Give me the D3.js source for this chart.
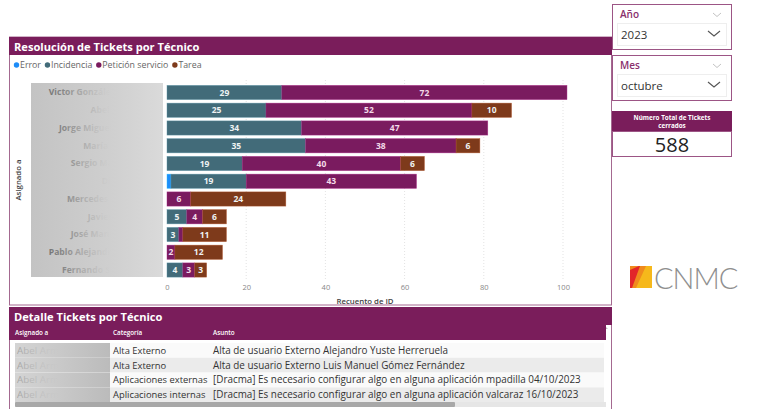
<!DOCTYPE html>
<html>
<head>
<meta charset="utf-8">
<script src="https://cdn.jsdelivr.net/npm/d3@7"></script>
<style>
  html, body { margin: 0; padding: 0; background: #fff; }
  svg { display: block; font-family: "Open Sans", "Noto Sans", sans-serif; }
</style>
</head>
<body>
<svg id="c" width="771" height="409"></svg>
<script>
// ---------------- data ----------------
const tecnicos = ["Victor González Rodríguez", "Abel Armas Ruiz", "Jorge Miguel Sanz Pérez", "María Gómez Ruiz",
  "Sergio Martín Blanco", "Diego Ruiz Gil", "Mercedes Díaz Ramos", "Javier López Díaz",
  "José Manuel Ortiz Gil", "Pablo Alejandro Vega Ruiz", "Fernando Sáez Moreno"];
const tipos = ["Error", "Incidencia", "Petición servicio", "Tarea"];
const error      = [0, 0, 0, 0, 0, 1, 0, 0, 0, 0, 0];
const incidencia = [29, 25, 34, 35, 19, 19, 0, 5, 3, 0, 4];
const peticion   = [72, 52, 47, 38, 40, 43, 6, 4, 1, 2, 3];
const tarea      = [0, 10, 0, 6, 6, 0, 24, 6, 11, 12, 3];
const xTicks = [0, 20, 40, 60, 80, 100];

const anio = "2023";
const mes = "octubre";
const totalTickets = 588;

const tablaAsignado  = ["Abel Armas Ruiz", "Abel Armas Ruiz", "Abel Armas Ruiz", "Abel Armas Ruiz"];
const tablaCategoria = ["Alta Externo", "Alta Externo", "Aplicaciones externas", "Aplicaciones internas"];
const tablaAsunto = [
  "Alta de usuario Externo Alejandro Yuste Herreruela",
  "Alta de usuario Externo Luis Manuel Gómez Fernández",
  "[Dracma] Es necesario configurar algo en alguna aplicación mpadilla 04/10/2023",
  "[Dracma] Es necesario configurar algo en alguna aplicación valcaraz 16/10/2023"
];
const tablaCols = ["Asignado a", "Categoría", "Asunto"];

// ---------------- setup ----------------
const PURPLE = "#7a1d5b";
const colors = { "Error": "#1d8cf8", "Incidencia": "#426b79", "Petición servicio": "#7a1b5f", "Tarea": "#7e3a1b" };
const svg = d3.select("#c");
const defs = svg.append("defs");

function lin(id, x1, x2, stops, units) {
  const g = defs.append("linearGradient").attr("id", id)
    .attr("gradientUnits", units || "objectBoundingBox")
    .attr("x1", x1).attr("x2", x2).attr("y1", 0).attr("y2", 0);
  stops.forEach(s => g.append("stop").attr("offset", s[0]).attr("stop-color", s[1]).attr("stop-opacity", s[2] == null ? 1 : s[2]));
}
lin("boxGrad", 0, 1, [[0, "#c3c3c3"], [0.6, "#cfcfcf"], [1, "#dadada"]]);
// name labels live in a group translated by 160 -> gradient coords in that space
lin("nameGrad", -130, -48, [[0, "#5c5c5c", 1], [0.45, "#858585", 0.9], [0.75, "#a8a8a8", 0.55], [1, "#c4c4c4", 0]], "userSpaceOnUse");
lin("tboxGrad", 0, 1, [[0, "#d4d4d4"], [0.5, "#c8c8c8"], [1, "#bbbbbb"]]);
lin("tnameGrad", 15, 62, [[0, "#a0a0a0", 1], [1, "#c0c0c0", 0]], "userSpaceOnUse");

// ---------------- main chart panel ----------------
svg.append("rect").attr("x", 9.5).attr("y", 37).attr("width", 602).attr("height", 268)
  .attr("fill", "#fff").attr("stroke", "#a46990").attr("stroke-width", 1);
svg.append("rect").attr("x", 9).attr("y", 37).attr("width", 603).attr("height", 18).attr("fill", PURPLE);
svg.append("text").attr("x", 14).attr("y", 50.5).attr("fill", "#fff")
  .attr("font-size", 11.1).attr("font-weight", 700).text("Resolución de Tickets por Técnico");

// legend
let lx = 14;
const lg = svg.append("g");
tipos.forEach(t => {
  lg.append("circle").attr("cx", lx + 2.5).attr("cy", 65).attr("r", 2.7).attr("fill", colors[t]);
  const tx = lg.append("text").attr("x", lx + 6).attr("y", 68).attr("font-size", 8.8).attr("fill", "#666").text(t);
  lx += 6 + tx.node().getComputedTextLength() + 4;
});

// scales
const x = d3.scaleLinear().domain([0, 100]).range([167, 563]);
const y = d3.scaleBand().domain(tecnicos).range([84.5, 278]).paddingInner(0.2).paddingOuter(0.05);

// gridlines
svg.append("g").selectAll("line").data(xTicks.slice(1)).join("line")
  .attr("x1", d => x(d)).attr("x2", d => x(d)).attr("y1", 80).attr("y2", 281)
  .attr("stroke", "#e3e3e3").attr("stroke-dasharray", "1,2");

// x axis
const xAxis = d3.axisBottom(x).tickValues(xTicks).tickSize(0).tickPadding(0);
const gx = svg.append("g").attr("transform", "translate(0,285)").call(xAxis);
gx.select(".domain").remove();
gx.selectAll("text").attr("font-size", 7.5).attr("fill", "#888").attr("dy", "0.71em")
  .attr("font-family", "'Open Sans', sans-serif");
svg.append("text").attr("x", 365).attr("y", 304).attr("text-anchor", "middle")
  .attr("font-size", 7.8).attr("font-weight", 600).attr("fill", "#444").text("Recuento de ID");

// y title
svg.append("text").attr("transform", "translate(21,180) rotate(-90)").attr("text-anchor", "middle")
  .attr("font-size", 7.8).attr("font-weight", 600).attr("fill", "#444").text("Asignado a");

// names (obscured)
svg.append("rect").attr("x", 31).attr("y", 83).attr("width", 132).attr("height", 194).attr("fill", "url(#boxGrad)");
const ya = d3.axisLeft(y).tickSize(0).tickPadding(0);
const gy = svg.append("g").attr("transform", "translate(160,0)").call(ya);
gy.select(".domain").remove();
gy.selectAll("text").attr("font-size", 8.6).attr("font-weight", 700).attr("fill", "url(#nameGrad)")
  .attr("font-family", "'Open Sans', sans-serif");

// stacked bars
const rows = tecnicos.map((n, i) => ({ name: n, "Error": error[i], "Incidencia": incidencia[i], "Petición servicio": peticion[i], "Tarea": tarea[i] }));
const series = d3.stack().keys(tipos)(rows);
const bars = svg.append("g");
series.forEach(s => {
  const g = bars.append("g");
  g.selectAll("rect").data(s.filter(d => d[1] > d[0])).join("rect")
    .attr("x", d => x(d[0])).attr("width", d => x(d[1]) - x(d[0]))
    .attr("y", d => y(d.data.name)).attr("height", y.bandwidth())
    .attr("fill", colors[s.key]).attr("stroke", d3.color(colors[s.key]).brighter(0.9)).attr("stroke-width", 0.6)
    .attr("stroke-opacity", 0.7);
  g.selectAll("text").data(s.filter(d => x(d[1]) - x(d[0]) >= 6)).join("text")
    .attr("x", d => (x(d[0]) + x(d[1])) / 2).attr("y", d => y(d.data.name) + y.bandwidth() / 2 + 3.2)
    .attr("text-anchor", "middle").attr("font-size", 8.5).attr("font-weight", 700)
    .attr("fill", s.key === "Petición servicio" ? "#f3dbe9" : "#eef2f3")
    .text(d => d[1] - d[0]);
});

// ---------------- slicers ----------------
function slicer(y0, label, value) {
  const g = svg.append("g");
  g.append("rect").attr("x", 612.5).attr("y", y0 + 0.5).attr("width", 119).attr("height", 45)
    .attr("fill", "#fff").attr("stroke", "#9c5585");
  g.append("text").attr("x", 620).attr("y", y0 + 13.5).attr("font-size", 10).attr("font-weight", 600).attr("fill", "#8a2f6c").text(label);
  g.append("path").attr("d", `M${713},${y0 + 9} l4,3.5 l4,-3.5`).attr("fill", "none").attr("stroke", "#bbb").attr("stroke-width", 0.9);
  g.append("rect").attr("x", 617.5).attr("y", y0 + 19.5).attr("width", 109).attr("height", 22)
    .attr("fill", "#fff").attr("stroke", "#eeeeee");
  g.append("text").attr("x", 621).attr("y", y0 + 35).attr("font-size", 11.5).attr("fill", "#333").text(value);
  g.append("path").attr("d", `M${708},${y0 + 27} l6,5 l6,-5`).attr("fill", "none").attr("stroke", "#555").attr("stroke-width", 1.1);
}
slicer(4, "Año", anio);
slicer(55, "Mes", mes);

// card
svg.append("rect").attr("x", 612).attr("y", 111).attr("width", 120).attr("height", 20).attr("fill", PURPLE);
svg.append("text").attr("x", 672).attr("y", 119.5).attr("text-anchor", "middle").attr("font-size", 6.3)
  .attr("font-weight", 700).attr("fill", "#fff").text("Número Total de Tickets");
svg.append("text").attr("x", 672).attr("y", 127.5).attr("text-anchor", "middle").attr("font-size", 6.3)
  .attr("font-weight", 700).attr("fill", "#fff").text("cerrados");
svg.append("rect").attr("x", 612.5).attr("y", 131.5).attr("width", 119).attr("height", 25)
  .attr("fill", "#fff").attr("stroke", "#9c5585");
svg.append("text").attr("x", 672).attr("y", 152).attr("text-anchor", "middle").attr("font-size", 20)
  .attr("font-weight", 500).attr("fill", "#222").text(totalTickets);

// logo
const logo = svg.append("g").attr("transform", "translate(630,266)");
logo.append("path").attr("d", "M0,0 H22 V22 H0 Z").attr("fill", "#f6b81b");
logo.append("path").attr("d", "M0,0 H16 L6,22 H0 Z").attr("fill", "#f08a1d");
logo.append("path").attr("d", "M0,4 L9,0 H10 L2,22 H0 Z").attr("fill", "#e2262a");
svg.append("text").attr("x", 654).attr("y", 289).attr("font-size", 29).attr("font-weight", 300)
  .attr("font-family", "Lato, 'Open Sans', sans-serif").attr("letter-spacing", -1).attr("fill", "#8f8f8f").text("CNMC");

// ---------------- table ----------------
svg.append("line").attr("x1", 9.5).attr("x2", 9.5).attr("y1", 307).attr("y2", 409).attr("stroke", "#a46990");
svg.append("line").attr("x1", 611.5).attr("x2", 611.5).attr("y1", 307).attr("y2", 409).attr("stroke", "#a46990");
svg.append("rect").attr("x", 9).attr("y", 307).attr("width", 603).attr("height", 18).attr("fill", PURPLE);
svg.append("rect").attr("x", 9).attr("y", 325).attr("width", 597).attr("height", 15).attr("fill", PURPLE);
svg.append("text").attr("x", 14).attr("y", 320.5).attr("fill", "#fff")
  .attr("font-size", 11.1).attr("font-weight", 700).text("Detalle Tickets por Técnico");
const colX = [15, 113, 213];
tablaCols.forEach((c, i) => svg.append("text").attr("x", colX[i]).attr("y", 335).attr("font-size", 6.3)
  .attr("font-weight", 600).attr("fill", "#fff").text(c));
const trows = svg.append("g");
tablaCategoria.forEach((c, i) => {
  const ty = 343 + i * 14.8;
  trows.append("rect").attr("x", 15).attr("y", ty).attr("width", 589).attr("height", 14.8)
    .attr("fill", i % 2 ? "#ebebeb" : "#fafafa");
  trows.append("rect").attr("x", 15).attr("y", ty).attr("width", 95).attr("height", 14.8).attr("fill", "url(#tboxGrad)");
  trows.append("text").attr("x", 17).attr("y", ty + 10.8).attr("font-size", 9.8).attr("fill", "url(#tnameGrad)").text(tablaAsignado[i]);
  trows.append("text").attr("x", colX[1]).attr("y", ty + 10.8).attr("font-size", 9.4).attr("fill", "#333").text(c);
  trows.append("text").attr("x", colX[2]).attr("y", ty + 10.8).attr("font-size", 9.9).attr("fill", "#333").text(tablaAsunto[i]);
});
svg.append("rect").attr("x", 15).attr("y", 402).attr("width", 591).attr("height", 5).attr("fill", "#e6e6e6");
svg.append("rect").attr("x", 15).attr("y", 402).attr("width", 440).attr("height", 5).attr("rx", 1).attr("fill", "#a8a8a8");
svg.append("path").attr("d", "M606,327 l2,2 l-2,0 z").attr("fill", "#bbb");
</script>
</body>
</html>
